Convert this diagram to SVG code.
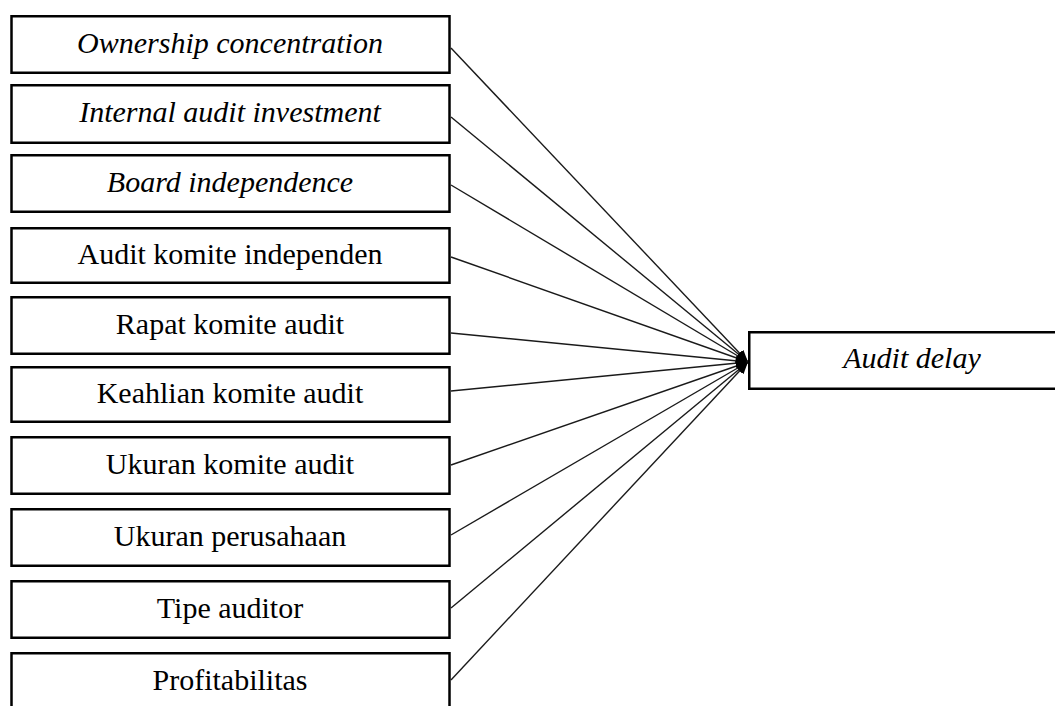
<svg xmlns="http://www.w3.org/2000/svg" width="1055" height="706" viewBox="0 0 1055 706">
  <style>
    .box { fill: #ffffff; stroke: #000000; stroke-width: 2.5; }
    .lbl { font-family: "Liberation Serif", "Times New Roman", serif; font-size: 30px; fill: #000000; text-anchor: middle; }
    .it { font-style: italic; }
    .edge { stroke: #1a1a1a; stroke-width: 1.4; fill: none; marker-end: url(#arrow); }
  </style>
  <defs>
    <marker id="arrow" markerUnits="userSpaceOnUse" markerWidth="14" markerHeight="12" refX="12" refY="5" orient="auto">
      <path d="M0,0 L12,5 L0,10 Z" fill="#000000"/>
    </marker>
  </defs>
  <rect x="0" y="0" width="1055" height="706" fill="#ffffff"/>

  <g id="connectors">
    <line class="edge" x1="451" y1="48" x2="748" y2="362"/>
    <line class="edge" x1="451" y1="117" x2="748" y2="362"/>
    <line class="edge" x1="451" y1="185" x2="748" y2="362"/>
    <line class="edge" x1="451" y1="257" x2="748" y2="362"/>
    <line class="edge" x1="451" y1="333" x2="748" y2="362"/>
    <line class="edge" x1="451" y1="391" x2="748" y2="362"/>
    <line class="edge" x1="451" y1="465" x2="748" y2="362"/>
    <line class="edge" x1="451" y1="535" x2="748" y2="362"/>
    <line class="edge" x1="451" y1="608" x2="748" y2="362"/>
    <line class="edge" x1="451" y1="680" x2="748" y2="362"/>
  </g>

  <g id="n1"><rect class="box" x="11.5" y="16.25" width="438" height="56.5"/><text class="lbl it" x="230" y="53">Ownership concentration</text></g>
  <g id="n2"><rect class="box" x="11.5" y="85.25" width="438" height="57.5"/><text class="lbl it" x="230" y="122">Internal audit investment</text></g>
  <g id="n3"><rect class="box" x="11.5" y="155.25" width="438" height="56.5"/><text class="lbl it" x="230" y="192">Board independence</text></g>
  <g id="n4"><rect class="box" x="11.5" y="228.25" width="438" height="54.5"/><text class="lbl" x="230" y="264">Audit komite independen</text></g>
  <g id="n5"><rect class="box" x="11.5" y="297.25" width="438" height="56.5"/><text class="lbl" x="230" y="334">Rapat komite audit</text></g>
  <g id="n6"><rect class="box" x="11.5" y="367.25" width="438" height="54.5"/><text class="lbl" x="230" y="403">Keahlian komite audit</text></g>
  <g id="n7"><rect class="box" x="11.5" y="437.25" width="438" height="56.5"/><text class="lbl" x="230" y="474">Ukuran komite audit</text></g>
  <g id="n8"><rect class="box" x="11.5" y="509.25" width="438" height="56.5"/><text class="lbl" x="230" y="546">Ukuran perusahaan</text></g>
  <g id="n9"><rect class="box" x="11.5" y="581.25" width="438" height="56.5"/><text class="lbl" x="230" y="618">Tipe auditor</text></g>
  <g id="n10"><rect class="box" x="11.5" y="653.25" width="438" height="70"/><text class="lbl" x="230" y="690">Profitabilitas</text></g>

  <g id="target"><rect class="box" x="749.25" y="332.25" width="330" height="56.5"/><text class="lbl it" x="912" y="368">Audit delay</text></g>
</svg>
